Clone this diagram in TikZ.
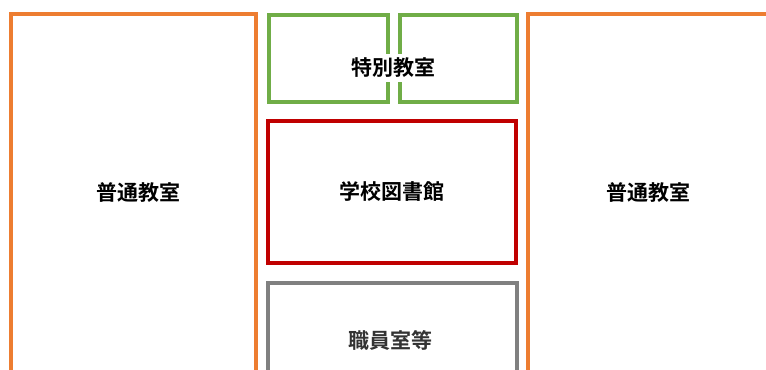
\documentclass[tikz,border=0pt]{standalone}
\usepackage{fontspec}
\newfontfamily\cjk{Noto Sans CJK JP}[BoldFont={* Bold}]
\definecolor{oorange}{HTML}{ED7D31}
\definecolor{ogreen}{HTML}{70AD47}
\definecolor{ored}{HTML}{C00000}
\definecolor{ogray}{HTML}{808080}
\definecolor{otext}{HTML}{000000}
\definecolor{otextgray}{HTML}{333333}
\tikzset{
  room/.style={line width=3.5bp},
  lbl/.style={font=\cjk\bfseries\fontsize{21bp}{25bp}\selectfont, inner sep=2bp}
}
\begin{document}
\begin{tikzpicture}[x=1bp,y=-1bp]
\useasboundingbox (0,0) rectangle (766,369);
\begin{scope}
\clip (0,0) rectangle (766,369);
% ordinary classrooms
\draw[room,oorange] (11,380) -- (11,14) -- (256,14) -- (256,380);
\draw[room,oorange] (528,380) -- (528,14) -- (780,14);
% special classrooms
\draw[room,ogreen] (269,15) rectangle (388,102);
\draw[room,ogreen] (400,15) rectangle (517,102);
% library
\draw[room,ored] (268,121) rectangle (516,263);
% staff
\draw[room,ogray] (268,380) -- (268,283) -- (517,283) -- (517,380);
\end{scope}
\node[lbl,text=otext] (l1) at (138,193) {普通教室};
\node[lbl,text=otext] (l2) at (648,193) {普通教室};
\node[lbl,text=otext,fill=white,inner ysep=4bp] (l3) at (393,68) {特別教室};
\node[lbl,text=otext] (l4) at (391.5,191) {学校図書館};
\node[lbl,text=otextgray] (l5) at (390,340) {職員室等};
\end{tikzpicture}
\end{document}
